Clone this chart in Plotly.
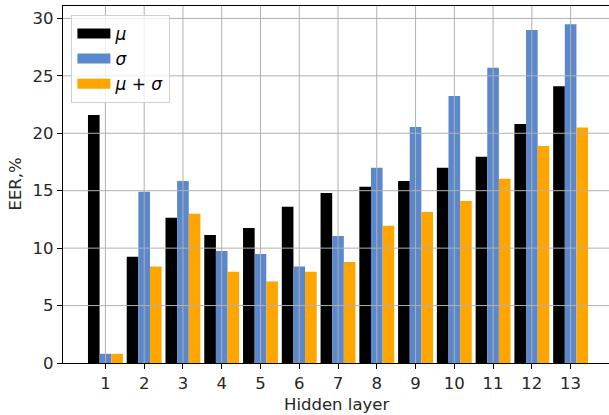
import plotly.graph_objects as go

layers = list(range(1, 14))
tick_labels = [str(i) for i in layers]
y_ticks = [0, 5, 10, 15, 20, 25, 30]
mu = [21.6, 9.25, 12.65, 11.15, 11.75, 13.6, 14.8, 15.35, 15.85, 17.0, 17.95, 20.8, 24.1]
sigma = [0.8, 14.9, 15.85, 9.75, 9.5, 8.4, 11.05, 17.0, 20.55, 23.25, 25.7, 29.0, 29.5]
mu_sigma = [0.8, 8.4, 13.0, 7.95, 7.1, 7.95, 8.8, 11.95, 13.15, 14.1, 16.05, 18.9, 20.5]

names = ["<i>μ</i>", "<i>σ</i>", "<i>μ</i> + <i>σ</i>"]
colors = ["#000000", "#5B88CC", "#FFA500"]
series = [mu, sigma, mu_sigma]

fig = go.Figure()
for vals, col in zip(series, colors):
    fig.add_trace(go.Bar(x=layers, y=vals, marker=dict(color=col, line=dict(width=0)),
                         showlegend=False, hoverinfo="skip"))
for name, col in zip(names, colors):
    fig.add_trace(go.Scatter(x=[None], y=[None], mode="lines", name=name,
                             line=dict(color=col, width=12)))

grid_style = dict(color="#b0b0b0", width=1)
shapes = []
for t in layers:
    shapes.append(dict(type="line", xref="x", yref="paper", x0=t, x1=t, y0=0, y1=1,
                       line=grid_style, layer="above"))
for t in y_ticks[1:]:
    shapes.append(dict(type="line", xref="paper", yref="y", x0=0, x1=1, y0=t, y1=t,
                       line=grid_style, layer="above"))

font = dict(family="DejaVu Sans", size=16.5, color="#262626")
fig.update_layout(
    width=609, height=415,
    margin=dict(l=63, r=0, t=6, b=52),
    paper_bgcolor="white", plot_bgcolor="white",
    barmode="group", bargap=0.1, bargroupgap=0,
    font=font,
    showlegend=True,
    shapes=shapes,
    legend=dict(x=0.0154, y=0.975, xanchor="left", yanchor="top",
                bgcolor="rgba(255,255,255,0.8)", bordercolor="#d0d0d0", borderwidth=1,
                font=dict(family="DejaVu Sans", size=17, color="#000"),
                itemwidth=33, tracegroupgap=0),
    xaxis=dict(range=[-0.094, 13.99], tickmode="array", tickvals=layers, ticktext=tick_labels,
               showgrid=False, layer="above traces",
               ticks="outside", ticklen=5, tickcolor="#000", tickwidth=1,
               showline=True, linecolor="#000", linewidth=1.2, mirror=True,
               zeroline=False, tickfont=font),
    yaxis=dict(range=[0, 31.08], tickmode="array", tickvals=y_ticks,
               showgrid=False, layer="above traces",
               ticks="outside", ticklen=5, tickcolor="#000", tickwidth=1,
               showline=True, linecolor="#000", linewidth=1.2,
               zeroline=False, tickfont=font),
    annotations=[
        dict(text="Hidden layer", xref="paper", yref="paper", x=0.5, y=0,
             yshift=-41, showarrow=False, font=font, xanchor="center", yanchor="middle"),
        dict(text="EER,%", xref="paper", yref="paper", x=0, y=0.5, xshift=-48,
             showarrow=False, font=font, textangle=-90, xanchor="center", yanchor="middle"),
    ],
)
fig.write_html("out.html", config={"displayModeBar": False},
               post_script="document.body.style.margin='0px';")
